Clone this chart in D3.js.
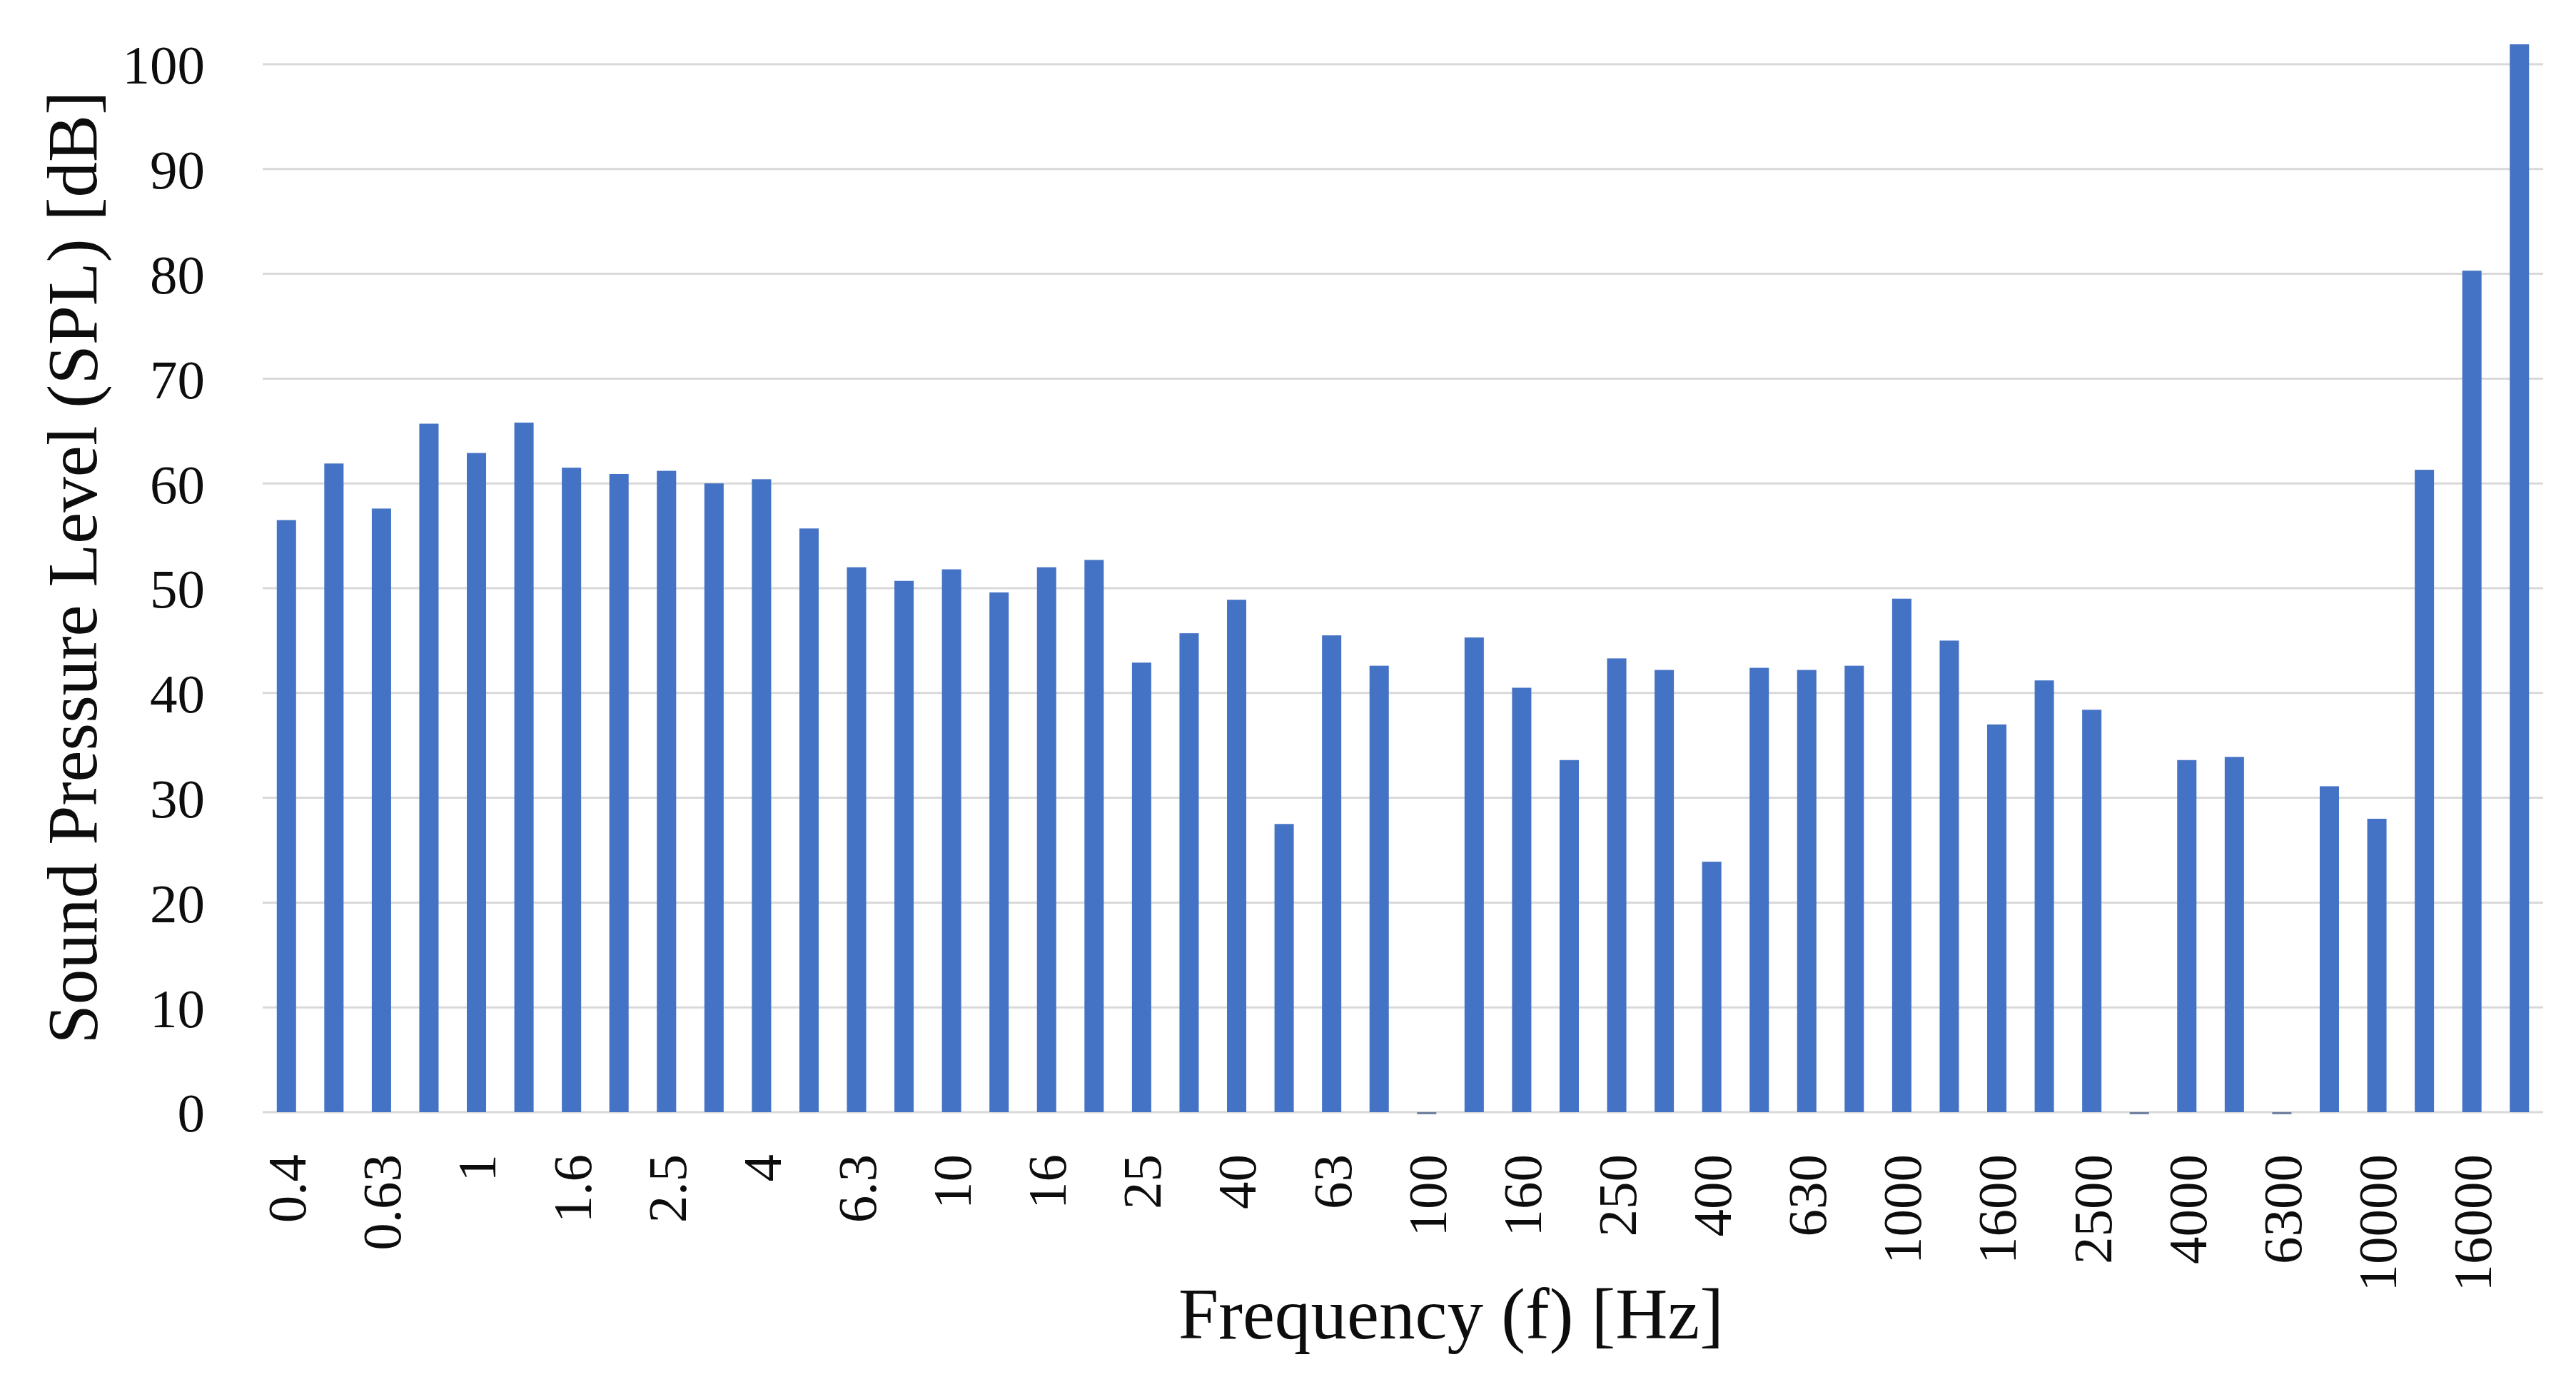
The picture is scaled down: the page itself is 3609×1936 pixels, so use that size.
<!DOCTYPE html>
<html>
<head>
<meta charset="utf-8">
<script src="https://cdn.jsdelivr.net/npm/d3@7"></script>
<style>
  html, body { margin: 0; padding: 0; background: #ffffff; }
  svg { display: block; }
</style>
</head>
<body>
<svg id="chart" width="3609" height="1936"></svg>
<script>
// ---- data ----
const categories = ["0.4","0.5","0.63","0.8","1","1.25","1.6","2","2.5","3.15",
  "4","5","6.3","8","10","12.5","16","20","25","31.5",
  "40","50","63","80","100","125","160","200","250","315",
  "400","500","630","800","1000","1250","1600","2000","2500","3150",
  "4000","5000","6300","8000","10000","12500","16000","20000"];
const splValues = [56.5,61.9,57.6,65.7,62.9,65.8,61.5,60.9,61.2,60.0,
  60.4,55.7,52.0,50.7,51.8,49.6,52.0,52.7,42.9,45.7,
  48.9,27.5,45.5,42.6,-0.2,45.3,40.5,33.6,43.3,42.2,
  23.9,42.4,42.2,42.6,49.0,45.0,37.0,41.2,38.4,-0.2,
  33.6,33.9,-0.2,31.1,28.0,61.3,80.3,101.9];
const xTickLabels = ["0.4","0.63","1","1.6","2.5","4","6.3","10","16","25","40","63",
  "100","160","250","400","630","1000","1600","2500","4000","6300","10000","16000"];
const yTickValues = [0,10,20,30,40,50,60,70,80,90,100];
const xTitle = "Frequency (f) [Hz]";
const yTitle = "Sound Pressure Level (SPL) [dB]";

// ---- layout ----
const plotLeft = 368, plotRight = 3563, plotTop = 90, plotBottom = 1558;
const fontFamily = "'Palatino Linotype','Book Antiqua',Palatino,'Liberation Serif','DejaVu Serif',serif";
const barColor = "#4472C4";
const gridColor = "#D9D9D9";
const textColor = "#0d0d0d";

const svg = d3.select("#chart");
svg.append("rect").attr("width", 3609).attr("height", 1936).attr("fill", "#fff");

const x = d3.scaleBand()
  .domain(categories)
  .range([plotLeft, plotRight])
  .paddingInner(0.594)
  .paddingOuter(0.297);

const y = d3.scaleLinear().domain([0, 100]).range([plotBottom, plotTop]);

// gridlines
svg.append("g")
  .selectAll("line")
  .data(yTickValues)
  .join("line")
  .attr("x1", plotLeft).attr("x2", plotRight)
  .attr("y1", d => y(d)).attr("y2", d => y(d))
  .attr("stroke", gridColor)
  .attr("stroke-width", 3);

// bars
svg.append("g")
  .selectAll("rect")
  .data(categories.map((c, i) => ({ c, v: splValues[i] })))
  .join("rect")
  .attr("x", d => x(d.c))
  .attr("width", x.bandwidth())
  .attr("y", d => Math.min(y(d.v), y(0)))
  .attr("height", d => Math.abs(y(0) - y(d.v)))
  .attr("fill", d => d.v < 0 ? "#6f7f9f" : barColor);

// y axis labels
const yAxis = d3.axisLeft(y).tickValues(yTickValues).tickSize(0).tickPadding(0);
const yg = svg.append("g")
  .attr("transform", `translate(${287},0)`)
  .call(yAxis);
yg.select(".domain").remove();
yg.selectAll("text")
  .attr("font-family", fontFamily)
  .attr("font-size", 77)
  .attr("fill", textColor)
  .attr("x", 0)
  .attr("dy", "0.35em");

// x axis labels
const xAxis = d3.axisBottom(x).tickValues(xTickLabels).tickSize(0).tickPadding(0);
const xg = svg.append("g")
  .attr("transform", `translate(0,${1617})`)
  .call(xAxis);
xg.select(".domain").remove();
xg.selectAll("text")
  .attr("font-family", fontFamily)
  .attr("font-size", 77)
  .attr("fill", textColor)
  .attr("text-anchor", "end")
  .attr("x", 0)
  .attr("y", 0)
  .attr("dy", "0.35em")
  .attr("transform", "rotate(-90)");

// axis titles
function fitText(sel, target) {
  const len = sel.node().getComputedTextLength();
  const fs = +sel.attr("font-size");
  if (len > 0) sel.attr("font-size", fs * target / len);
}
const xt = svg.append("text")
  .attr("x", 2033).attr("y", 1875)
  .attr("text-anchor", "middle")
  .attr("font-family", fontFamily)
  .attr("font-size", 92)
  .attr("fill", textColor)
  .text(xTitle);
fitText(xt, 764);

const yt = svg.append("text")
  .attr("transform", `translate(135,795) rotate(-90)`)
  .attr("text-anchor", "middle")
  .attr("font-family", fontFamily)
  .attr("font-size", 92)
  .attr("fill", textColor)
  .text(yTitle);
fitText(yt, 1335);
</script>
</body>
</html>
